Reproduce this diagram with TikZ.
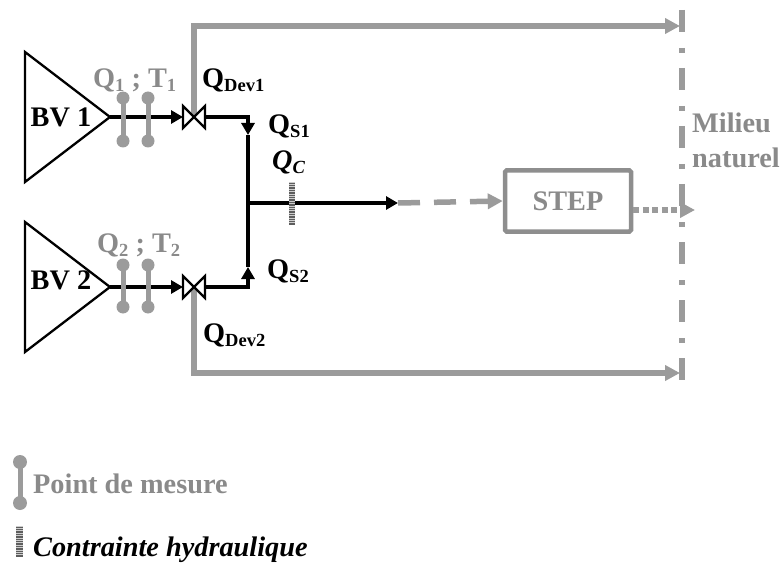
\documentclass[tikz,border=0pt]{standalone}
\usepackage{fontspec}
\setmainfont{Liberation Serif}
\usetikzlibrary{arrows.meta,positioning,calc}
\definecolor{mesgray}{HTML}{9B9B9B}
\definecolor{stepgray}{HTML}{8E8E8E}
\definecolor{txtgray}{HTML}{8A8A8A}

\newcommand{\lowidx}[1]{\raisebox{-4pt}{\fontsize{18.5}{18.5}\selectfont #1}}

\begin{document}
\begin{tikzpicture}[x=1pt, y=-1pt,
    lbl/.style={font=\fontsize{28.3}{35}\selectfont\bfseries, inner sep=0pt},
    graylbl/.style={lbl, text=txtgray},
    flow/.style={line width=3.3pt, black},
    flowarr/.style={flow, -{Triangle[length=12pt,width=13pt]}},
    graytip/.style={-{Triangle[length=15pt,width=15pt]}},
    bypass/.style={line width=5.5pt, mesgray, graytip},
    basin/.style={line width=2.3pt, black},
    valvepart/.style={line width=2.2pt, draw=black, fill=white, line join=miter},
    mespoint/.style={line width=5pt, mesgray},
    stepbox/.style={draw=stepgray, line width=4.5pt, rounded corners=1.5pt,
        minimum width=126pt, minimum height=61pt, inner sep=0pt,
        font=\fontsize{28.3}{35}\selectfont\bfseries, text=txtgray},
    border/.style={line width=5.5pt, mesgray,
        dash pattern=on 22pt off 16pt on 5pt off 15pt},
]

\useasboundingbox (0,0) rectangle (784,564);

% Basins: triangles with outlet at the tip
\coordinate (bv_a) at (110,117);
\coordinate (bv_b) at (110,287);
\draw[basin] (25,52) -- (bv_a) -- (25,182) -- cycle;
\draw[basin] (25,222) -- (bv_b) -- (25,352) -- cycle;
\node[lbl, anchor=base] (bv_a_lbl) at (61,127) {BV 1};
\node[lbl, anchor=base] (bv_b_lbl) at (61,289) {BV 2};

% Valves and junction points
\coordinate (valve_a) at (194,117);
\coordinate (valve_b) at (194,287);
\coordinate (valve_a_in) at (183,117);
\coordinate (valve_b_in) at (183,287);
\coordinate (valve_a_out) at (205,117);
\coordinate (valve_b_out) at (205,287);
\coordinate (qs_a) at (248,135);
\coordinate (qs_b) at (248,267);
\coordinate (junc) at (248,203);
\coordinate (flow_end) at (398,203);

% Natural environment boundary
\coordinate (milieu_top) at (680,26);
\coordinate (milieu_bot) at (680,373);
\coordinate (milieu_mid) at (695,210);
\draw[border] (682,10) -- (682,383);
\node[graylbl, align=left, anchor=west] (milieu) at (692,140) {Milieu\\naturel};

% Overflow (deversoir) lines — drawn under the valves
\draw[bypass] (valve_a) |- (milieu_top);
\draw[bypass] (valve_b) |- (milieu_bot);

% Main flow
\draw[flowarr] (bv_a) -- (valve_a_in);
\draw[flowarr] (bv_b) -- (valve_b_in);
\draw[flowarr] (valve_a_out) -| (qs_a);
\draw[flowarr] (valve_b_out) -| (qs_b);
\draw[flow] (qs_a) -- (qs_b);
\draw[flowarr] (junc) -- (flow_end);

% Valves (bowtie)
\foreach \vy in {117,287} {
    \draw[valvepart] (183,\vy-11) -- (194,\vy) -- (183,\vy+11) -- cycle;
    \draw[valvepart] (205,\vy-11) -- (194,\vy) -- (205,\vy+11) -- cycle;
}

% Measurement points
\foreach \mx in {123,148} {
    \foreach \ytop/\ybot in {98/141, 265/307} {
        \draw[mespoint] (\mx,\ytop) -- (\mx,\ybot);
        \fill[mesgray] (\mx,\ytop) circle (6.5pt) (\mx,\ybot) circle (6.5pt);
    }
}

% Hydraulic constraint markers (flow line + legend)
\foreach \cx/\cy/\ch in {292/182/43, 19.5/526/31} {
    \fill[mesgray!60!black] (\cx-3.2,\cy) rectangle (\cx+3.2,\cy+\ch);
    \foreach \k in {0,2.4,...,\ch}
        \draw[line width=0.9pt, mesgray!50] (\cx-3.2,\cy+\k) -- (\cx+3.2,\cy+\k);
}

% STEP
\node[stepbox] (step) at (568,201) {STEP};
\draw[line width=5.5pt, mesgray, dash pattern=on 22pt off 14pt, graytip]
    (flow_end) -- (step.west);
\draw[line width=5.5pt, mesgray, dash pattern=on 6pt off 3.5pt, graytip]
    ([yshift=-9pt]step.east) -- (milieu_mid);

% Flow labels
\node[graylbl, anchor=base west] (qt_a) at (93,88) {Q\lowidx{1} ; T\lowidx{1}};
\node[graylbl, anchor=base west] (qt_b) at (97,252) {Q\lowidx{2} ; T\lowidx{2}};
\node[lbl, anchor=base west] (qdev_a) at (202,88) {Q\lowidx{Dev1}};
\node[lbl, anchor=base west] (qdev_b) at (203,342) {Q\lowidx{Dev2}};
\node[lbl, anchor=base west] (qs_a_lbl) at (268,134) {Q\lowidx{S1}};
\node[lbl, anchor=base west] (qs_b_lbl) at (267,278) {Q\lowidx{S2}};
\node[lbl, anchor=base west] (qc_lbl) at (272,170) {\itshape Q\lowidx{\itshape C}};

% Legend
\draw[mespoint] (20,462) -- (20,503);
\fill[mesgray] (20,462) circle (7pt) (20,503) circle (7pt);
\node[graylbl, anchor=base west] (leg_mes) at (33,493) {Point de mesure};
\node[lbl, anchor=base west] (leg_cont) at (33,556) {\itshape Contrainte hydraulique};

\end{tikzpicture}
\end{document}
